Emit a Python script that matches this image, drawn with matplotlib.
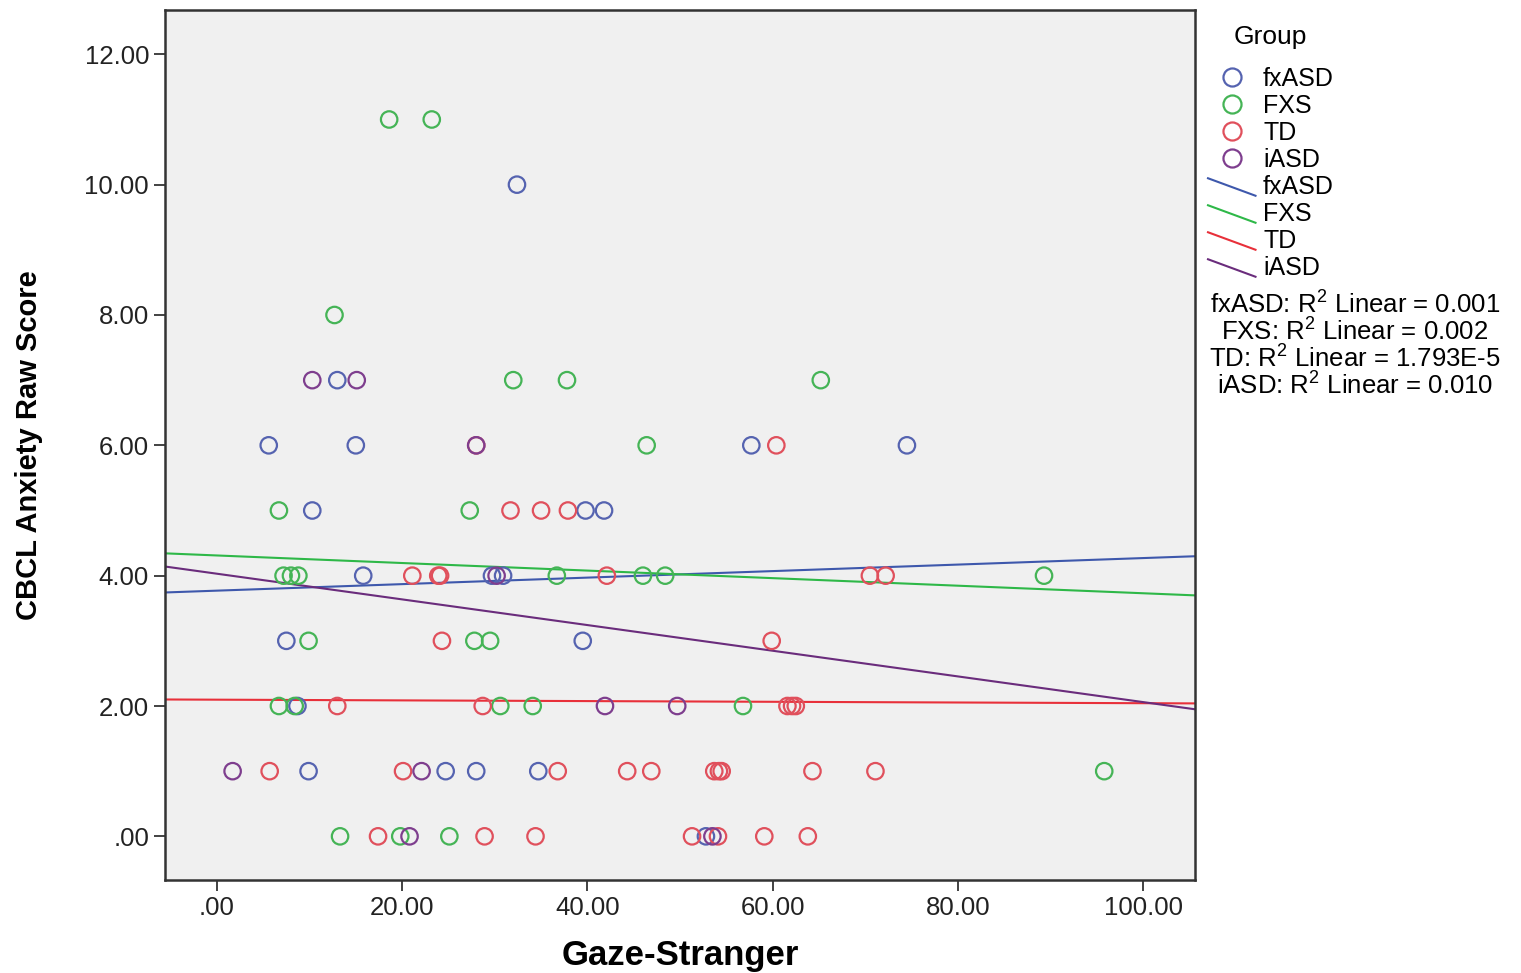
import matplotlib
matplotlib.use("Agg")
import matplotlib.pyplot as plt
from matplotlib.lines import Line2D
from matplotlib.legend_handler import HandlerBase
from matplotlib.ticker import FuncFormatter

plt.rcParams["font.family"] = ["Liberation Sans", "DejaVu Sans"]
plt.rcParams["mathtext.fontset"] = "custom"
plt.rcParams["mathtext.rm"] = "Liberation Sans"

# --- datos (Gaze-Stranger, CBCL Anxiety) ---
groups = ["fxASD", "FXS", "TD", "iASD"]

fxasd_x = [32.4, 13.0, 5.6, 15.0, 57.7, 74.5, 10.3, 39.8, 41.8, 15.8, 29.7, 30.9,
           7.5, 39.5, 8.7, 9.9, 24.7, 28.0, 34.7, 52.8]
fxasd_y = [10, 7, 6, 6, 6, 6, 5, 5, 5, 4, 4, 4, 3, 3, 2, 1, 1, 1, 1, 0]

fxs_x = [18.6, 23.2, 12.7, 32.0, 37.8, 65.2, 46.4, 6.7, 27.3, 7.2, 8.0, 8.8, 36.7,
         46.0, 48.4, 89.3, 9.9, 27.8, 29.5, 6.7, 8.4, 30.6, 34.1, 56.8, 95.8,
         13.3, 19.8, 25.1]
fxs_y = [11, 11, 8, 7, 7, 7, 6, 5, 5, 4, 4, 4, 4, 4, 4, 4, 3, 3, 3, 2, 2, 2, 2, 2,
         1, 0, 0, 0]

td_x = [60.4, 28.0, 31.7, 35.0, 37.9, 21.1, 23.9, 24.1, 42.1, 70.5, 72.2, 24.3,
        59.9, 13.0, 28.7, 61.6, 62.1, 62.5, 5.7, 20.1, 36.8, 44.3, 46.9, 53.7,
        54.2, 54.5, 64.3, 71.1, 17.4, 28.9, 34.4, 51.3, 54.1, 59.1, 63.8]
td_y = [6, 6, 5, 5, 5, 4, 4, 4, 4, 4, 4, 3, 3, 2, 2, 2, 2, 2, 1, 1, 1, 1, 1, 1,
        1, 1, 1, 1, 0, 0, 0, 0, 0, 0, 0]

iasd_x = [10.3, 15.1, 28.0, 30.2, 41.9, 49.7, 1.7, 22.1, 20.8, 53.5]
iasd_y = [7, 7, 6, 4, 2, 2, 1, 1, 0, 0]

# rectas de regresión (intercepto y pendiente estimados de la imagen)
fit_intercept = [3.77, 4.31, 2.097, 4.03]
fit_slope = [0.0050, -0.0058, -0.00054, -0.0197]
r2_labels = ["0.001", "0.002", "1.793E-5", "0.010"]

marker_colors = ["#5563B0", "#45B456", "#E0505C", "#7E3E8E"]
line_colors = ["#3E58AC", "#2EB848", "#E8303A", "#6A2C7C"]

xs_all = [fxasd_x, fxs_x, td_x, iasd_x]
ys_all = [fxasd_y, fxs_y, td_y, iasd_y]


class DiagHandler(HandlerBase):
    """Línea diagonal en la leyenda, como en SPSS."""
    def create_artists(self, legend, orig_handle, xdescent, ydescent,
                       width, height, fontsize, trans):
        ln = Line2D([-xdescent, -xdescent + width],
                    [-ydescent + height * 0.9, -ydescent - height * 0.1],
                    color=orig_handle.get_color(),
                    lw=orig_handle.get_linewidth(), transform=trans)
        return [ln]


fig = plt.figure(figsize=(15.21, 9.73), dpi=100)
ax = fig.add_axes([165 / 1521, 1 - 880 / 973, 1030 / 1521, 870 / 973])
ax.set_facecolor("#F0F0F0")

xlim = (-5.6, 105.6)
ax.set_xlim(*xlim)
ax.set_ylim(-0.67, 12.68)

for xs, ys, c in zip(xs_all, ys_all, marker_colors):
    ax.scatter(xs, ys, s=140, facecolors="none", edgecolors=c, linewidths=1.6, zorder=3)

for b0, b1, c in zip(fit_intercept, fit_slope, line_colors):
    ax.plot(xlim, [b0 + b1 * xlim[0], b0 + b1 * xlim[1]], color=c, lw=1.5, zorder=2)

fmt = FuncFormatter(lambda v, p: ("%.2f" % v).lstrip("0") if abs(v) < 1 else "%.2f" % v)
ax.set_xticks([0, 20, 40, 60, 80, 100])
ax.set_yticks([0, 2, 4, 6, 8, 10, 12])
ax.xaxis.set_major_formatter(fmt)
ax.yaxis.set_major_formatter(fmt)
ax.tick_params(direction="out", length=8, width=1.2, labelsize=18.5, colors="#222222")
for sp in ax.spines.values():
    sp.set_linewidth(1.8)
    sp.set_color("#333333")

ax.set_xlabel("Gaze-Stranger", fontsize=25, fontweight="bold", labelpad=14)
ax.set_ylabel("CBCL Anxiety Raw Score", fontsize=21, fontweight="bold", labelpad=30)

# leyenda
fig.text(1270 / 1521, 1 - 37 / 973, "Group", ha="center", va="center", fontsize=19)
handles = [Line2D([], [], ls="none", marker="o", mfc="none", mec=c, ms=13, mew=1.6)
           for c in marker_colors]
handles += [Line2D([], [], color=c, lw=1.5) for c in line_colors]
leg = ax.legend(handles, groups + groups, loc="upper left",
                bbox_to_anchor=(1198 / 1521, 1 - 57 / 973), bbox_transform=fig.transFigure,
                frameon=False, fontsize=18, labelspacing=0.12,
                handlelength=1.9, handletextpad=0.3, borderaxespad=0,
                handler_map={h: DiagHandler() for h in handles[4:]})

for i, (g, r2) in enumerate(zip(groups, r2_labels)):
    fig.text(1355 / 1521, 1 - (304 + 27 * i) / 973,
             "%s: R$^2$ Linear = %s" % (g, r2), ha="center", va="center", fontsize=18.5)

fig.savefig("out.png", dpi=100)
